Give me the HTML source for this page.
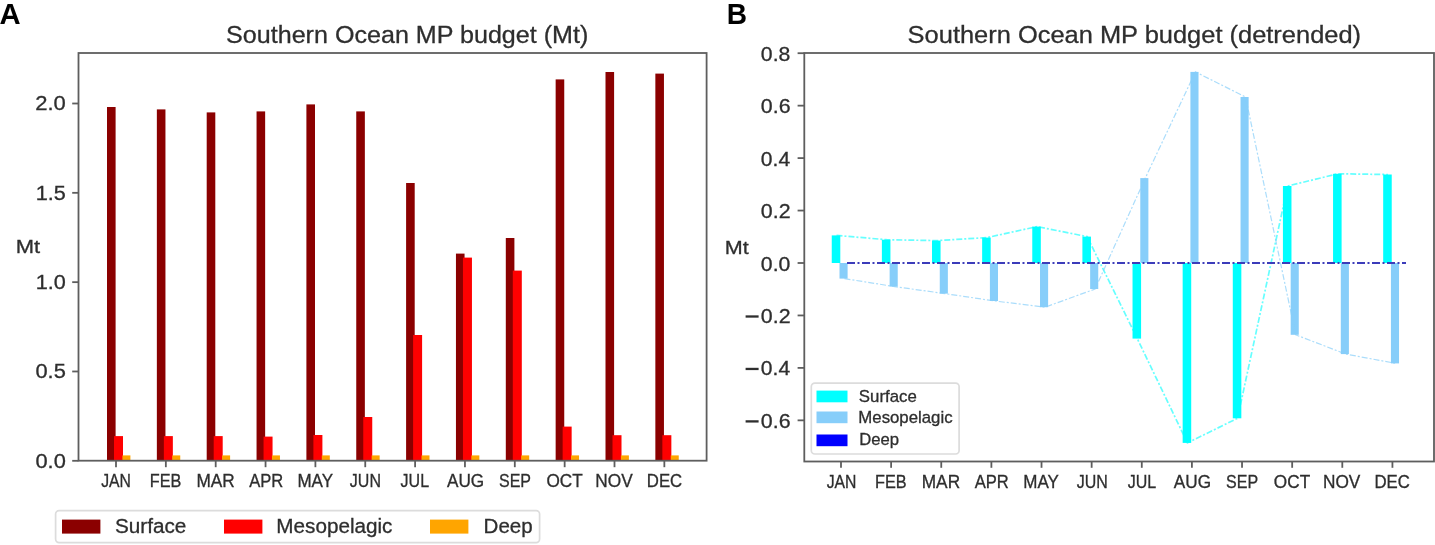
<!DOCTYPE html>
<html><head><meta charset="utf-8"><style>
html,body{margin:0;padding:0;background:#fff;}
body{width:1435px;height:545px;overflow:hidden;}
svg{display:block;font-family:"Liberation Sans",sans-serif;filter:blur(0.3px);}
</style></head><body>
<svg width="1435" height="545" viewBox="0 0 1435 545">
<rect width="1435" height="545" fill="#fff"/>
<text x="-0.39" y="23.80" font-size="29.60" font-weight="bold" fill="#000" stroke="#000" stroke-width="0" textLength="21.13" lengthAdjust="spacingAndGlyphs">A</text>
<text x="726.72" y="23.80" font-size="29.60" font-weight="bold" fill="#000" stroke="#000" stroke-width="0" textLength="20.27" lengthAdjust="spacingAndGlyphs">B</text>
<text x="226.04" y="42.50" font-size="24.60" font-weight="normal" fill="#2e2e2e" stroke="#2e2e2e" stroke-width="0.3" textLength="362.32" lengthAdjust="spacingAndGlyphs">Southern Ocean MP budget (Mt)</text>
<text x="907.63" y="42.50" font-size="24.60" font-weight="normal" fill="#2e2e2e" stroke="#2e2e2e" stroke-width="0.3" textLength="453.43" lengthAdjust="spacingAndGlyphs">Southern Ocean MP budget (detrended)</text>
<rect x="107.00" y="107.00" width="8.6" height="353.80" fill="#8b0000"/>
<rect x="114.00" y="436.10" width="9" height="24.70" fill="#ff0000"/>
<rect x="122.40" y="455.40" width="8" height="5.40" fill="#ffa500"/>
<rect x="156.85" y="109.40" width="8.6" height="351.40" fill="#8b0000"/>
<rect x="163.85" y="436.10" width="9" height="24.70" fill="#ff0000"/>
<rect x="172.25" y="455.40" width="8" height="5.40" fill="#ffa500"/>
<rect x="206.70" y="112.40" width="8.6" height="348.40" fill="#8b0000"/>
<rect x="213.70" y="436.10" width="9" height="24.70" fill="#ff0000"/>
<rect x="222.10" y="455.40" width="8" height="5.40" fill="#ffa500"/>
<rect x="256.55" y="111.40" width="8.6" height="349.40" fill="#8b0000"/>
<rect x="263.55" y="436.60" width="9" height="24.20" fill="#ff0000"/>
<rect x="271.95" y="455.40" width="8" height="5.40" fill="#ffa500"/>
<rect x="306.40" y="104.40" width="8.6" height="356.40" fill="#8b0000"/>
<rect x="313.40" y="435.00" width="9" height="25.80" fill="#ff0000"/>
<rect x="321.80" y="455.40" width="8" height="5.40" fill="#ffa500"/>
<rect x="356.25" y="111.40" width="8.6" height="349.40" fill="#8b0000"/>
<rect x="363.25" y="417.00" width="9" height="43.80" fill="#ff0000"/>
<rect x="371.65" y="455.40" width="8" height="5.40" fill="#ffa500"/>
<rect x="406.10" y="183.00" width="8.6" height="277.80" fill="#8b0000"/>
<rect x="413.10" y="335.00" width="9" height="125.80" fill="#ff0000"/>
<rect x="421.50" y="455.40" width="8" height="5.40" fill="#ffa500"/>
<rect x="455.95" y="253.60" width="8.6" height="207.20" fill="#8b0000"/>
<rect x="462.95" y="257.60" width="9" height="203.20" fill="#ff0000"/>
<rect x="471.35" y="455.40" width="8" height="5.40" fill="#ffa500"/>
<rect x="505.80" y="238.00" width="8.6" height="222.80" fill="#8b0000"/>
<rect x="512.80" y="270.60" width="9" height="190.20" fill="#ff0000"/>
<rect x="521.20" y="455.40" width="8" height="5.40" fill="#ffa500"/>
<rect x="555.65" y="79.40" width="8.6" height="381.40" fill="#8b0000"/>
<rect x="562.65" y="426.60" width="9" height="34.20" fill="#ff0000"/>
<rect x="571.05" y="455.40" width="8" height="5.40" fill="#ffa500"/>
<rect x="605.50" y="72.00" width="8.6" height="388.80" fill="#8b0000"/>
<rect x="612.50" y="435.20" width="9" height="25.60" fill="#ff0000"/>
<rect x="620.90" y="455.40" width="8" height="5.40" fill="#ffa500"/>
<rect x="655.35" y="73.60" width="8.6" height="387.20" fill="#8b0000"/>
<rect x="662.35" y="435.20" width="9" height="25.60" fill="#ff0000"/>
<rect x="670.75" y="455.40" width="8" height="5.40" fill="#ffa500"/>
<rect x="78.5" y="53" width="628.10" height="407.70" fill="none" stroke="#5e5e5e" stroke-width="1.8"/>
<line x1="72.2" y1="460.80" x2="78.5" y2="460.80" stroke="#5e5e5e" stroke-width="1.8"/>
<text x="35.43" y="467.70" font-size="19.90" font-weight="normal" fill="#2e2e2e" stroke="#2e2e2e" stroke-width="0.3" textLength="30.35" lengthAdjust="spacingAndGlyphs">0.0</text>
<line x1="72.2" y1="371.48" x2="78.5" y2="371.48" stroke="#5e5e5e" stroke-width="1.8"/>
<text x="35.43" y="378.38" font-size="19.90" font-weight="normal" fill="#2e2e2e" stroke="#2e2e2e" stroke-width="0.3" textLength="30.35" lengthAdjust="spacingAndGlyphs">0.5</text>
<line x1="72.2" y1="282.15" x2="78.5" y2="282.15" stroke="#5e5e5e" stroke-width="1.8"/>
<text x="35.69" y="289.05" font-size="19.90" font-weight="normal" fill="#2e2e2e" stroke="#2e2e2e" stroke-width="0.3" textLength="30.08" lengthAdjust="spacingAndGlyphs">1.0</text>
<line x1="72.2" y1="192.83" x2="78.5" y2="192.83" stroke="#5e5e5e" stroke-width="1.8"/>
<text x="35.69" y="199.73" font-size="19.90" font-weight="normal" fill="#2e2e2e" stroke="#2e2e2e" stroke-width="0.3" textLength="30.08" lengthAdjust="spacingAndGlyphs">1.5</text>
<line x1="72.2" y1="103.50" x2="78.5" y2="103.50" stroke="#5e5e5e" stroke-width="1.8"/>
<text x="35.20" y="110.40" font-size="19.90" font-weight="normal" fill="#2e2e2e" stroke="#2e2e2e" stroke-width="0.3" textLength="30.58" lengthAdjust="spacingAndGlyphs">2.0</text>
<text x="15.84" y="253.40" font-size="18.97" font-weight="normal" fill="#2e2e2e" stroke="#2e2e2e" stroke-width="0.3" textLength="24.39" lengthAdjust="spacingAndGlyphs">Mt</text>
<line x1="116.00" y1="460.7" x2="116.00" y2="467.2" stroke="#5e5e5e" stroke-width="1.8"/>
<text x="101.15" y="486.90" font-size="17.60" font-weight="normal" fill="#2e2e2e" stroke="#2e2e2e" stroke-width="0.3" textLength="29.79" lengthAdjust="spacingAndGlyphs">JAN</text>
<line x1="165.85" y1="460.7" x2="165.85" y2="467.2" stroke="#5e5e5e" stroke-width="1.8"/>
<text x="149.71" y="486.90" font-size="17.60" font-weight="normal" fill="#2e2e2e" stroke="#2e2e2e" stroke-width="0.3" textLength="31.61" lengthAdjust="spacingAndGlyphs">FEB</text>
<line x1="215.70" y1="460.7" x2="215.70" y2="467.2" stroke="#5e5e5e" stroke-width="1.8"/>
<text x="196.49" y="486.90" font-size="17.60" font-weight="normal" fill="#2e2e2e" stroke="#2e2e2e" stroke-width="0.3" textLength="38.36" lengthAdjust="spacingAndGlyphs">MAR</text>
<line x1="265.55" y1="460.7" x2="265.55" y2="467.2" stroke="#5e5e5e" stroke-width="1.8"/>
<text x="249.13" y="486.90" font-size="17.60" font-weight="normal" fill="#2e2e2e" stroke="#2e2e2e" stroke-width="0.3" textLength="34.11" lengthAdjust="spacingAndGlyphs">APR</text>
<line x1="315.40" y1="460.7" x2="315.40" y2="467.2" stroke="#5e5e5e" stroke-width="1.8"/>
<text x="297.46" y="486.90" font-size="17.60" font-weight="normal" fill="#2e2e2e" stroke="#2e2e2e" stroke-width="0.3" textLength="35.61" lengthAdjust="spacingAndGlyphs">MAY</text>
<line x1="365.25" y1="460.7" x2="365.25" y2="467.2" stroke="#5e5e5e" stroke-width="1.8"/>
<text x="349.85" y="486.90" font-size="17.60" font-weight="normal" fill="#2e2e2e" stroke="#2e2e2e" stroke-width="0.3" textLength="31.09" lengthAdjust="spacingAndGlyphs">JUN</text>
<line x1="415.10" y1="460.7" x2="415.10" y2="467.2" stroke="#5e5e5e" stroke-width="1.8"/>
<text x="400.60" y="486.90" font-size="17.60" font-weight="normal" fill="#2e2e2e" stroke="#2e2e2e" stroke-width="0.3" textLength="28.49" lengthAdjust="spacingAndGlyphs">JUL</text>
<line x1="464.95" y1="460.7" x2="464.95" y2="467.2" stroke="#5e5e5e" stroke-width="1.8"/>
<text x="446.96" y="486.90" font-size="17.60" font-weight="normal" fill="#2e2e2e" stroke="#2e2e2e" stroke-width="0.3" textLength="37.23" lengthAdjust="spacingAndGlyphs">AUG</text>
<line x1="514.80" y1="460.7" x2="514.80" y2="467.2" stroke="#5e5e5e" stroke-width="1.8"/>
<text x="498.98" y="486.90" font-size="17.60" font-weight="normal" fill="#2e2e2e" stroke="#2e2e2e" stroke-width="0.3" textLength="32.06" lengthAdjust="spacingAndGlyphs">SEP</text>
<line x1="564.65" y1="460.7" x2="564.65" y2="467.2" stroke="#5e5e5e" stroke-width="1.8"/>
<text x="546.40" y="486.90" font-size="17.60" font-weight="normal" fill="#2e2e2e" stroke="#2e2e2e" stroke-width="0.3" textLength="36.27" lengthAdjust="spacingAndGlyphs">OCT</text>
<line x1="614.50" y1="460.7" x2="614.50" y2="467.2" stroke="#5e5e5e" stroke-width="1.8"/>
<text x="595.36" y="486.90" font-size="17.60" font-weight="normal" fill="#2e2e2e" stroke="#2e2e2e" stroke-width="0.3" textLength="37.41" lengthAdjust="spacingAndGlyphs">NOV</text>
<line x1="664.35" y1="460.7" x2="664.35" y2="467.2" stroke="#5e5e5e" stroke-width="1.8"/>
<text x="646.79" y="486.90" font-size="17.60" font-weight="normal" fill="#2e2e2e" stroke="#2e2e2e" stroke-width="0.3" textLength="35.38" lengthAdjust="spacingAndGlyphs">DEC</text>
<rect x="55.6" y="510.6" width="484" height="32" rx="3.5" ry="3.5" fill="#fff" stroke="#dcdcdc" stroke-width="1.7"/>
<rect x="62" y="519.6" width="38.4" height="14" fill="#8b0000"/>
<rect x="224" y="519.6" width="38.4" height="14" fill="#ff0000"/>
<rect x="430" y="519.6" width="38.4" height="14" fill="#ffa500"/>
<text x="114.96" y="533.30" font-size="19.92" font-weight="normal" fill="#2e2e2e" stroke="#2e2e2e" stroke-width="0.3" textLength="71.36" lengthAdjust="spacingAndGlyphs">Surface</text>
<text x="276.35" y="533.30" font-size="19.92" font-weight="normal" fill="#2e2e2e" stroke="#2e2e2e" stroke-width="0.3" textLength="116.10" lengthAdjust="spacingAndGlyphs">Mesopelagic</text>
<text x="483.56" y="533.10" font-size="19.92" font-weight="normal" fill="#2e2e2e" stroke="#2e2e2e" stroke-width="0.3" textLength="49.10" lengthAdjust="spacingAndGlyphs">Deep</text>
<rect x="831.75" y="235.40" width="8.55" height="27.60" fill="#00ffff"/>
<rect x="839.50" y="263.00" width="8.1" height="15.60" fill="#87cefa"/>
<rect x="881.88" y="239.70" width="8.55" height="23.30" fill="#00ffff"/>
<rect x="889.63" y="263.00" width="8.1" height="23.60" fill="#87cefa"/>
<rect x="932.01" y="240.60" width="8.55" height="22.40" fill="#00ffff"/>
<rect x="939.76" y="263.00" width="8.1" height="30.60" fill="#87cefa"/>
<rect x="982.14" y="237.60" width="8.55" height="25.40" fill="#00ffff"/>
<rect x="989.89" y="263.00" width="8.1" height="38.00" fill="#87cefa"/>
<rect x="1032.27" y="226.60" width="8.55" height="36.40" fill="#00ffff"/>
<rect x="1040.02" y="263.00" width="8.1" height="44.20" fill="#87cefa"/>
<rect x="1082.40" y="236.60" width="8.55" height="26.40" fill="#00ffff"/>
<rect x="1090.15" y="263.00" width="8.1" height="26.00" fill="#87cefa"/>
<rect x="1132.53" y="263.00" width="8.55" height="75.60" fill="#00ffff"/>
<rect x="1140.28" y="178.10" width="8.1" height="84.90" fill="#87cefa"/>
<rect x="1182.66" y="263.00" width="8.55" height="179.90" fill="#00ffff"/>
<rect x="1190.41" y="71.90" width="8.1" height="191.10" fill="#87cefa"/>
<rect x="1232.79" y="263.00" width="8.55" height="155.30" fill="#00ffff"/>
<rect x="1240.54" y="97.00" width="8.1" height="166.00" fill="#87cefa"/>
<rect x="1282.92" y="186.00" width="8.55" height="77.00" fill="#00ffff"/>
<rect x="1290.67" y="263.00" width="8.1" height="71.80" fill="#87cefa"/>
<rect x="1333.05" y="173.80" width="8.55" height="89.20" fill="#00ffff"/>
<rect x="1340.80" y="263.00" width="8.1" height="91.10" fill="#87cefa"/>
<rect x="1383.18" y="174.50" width="8.55" height="88.50" fill="#00ffff"/>
<rect x="1390.93" y="263.00" width="8.1" height="100.40" fill="#87cefa"/>
<polyline points="836.50,235.40 886.63,239.70 936.76,240.60 986.89,237.60 1037.02,226.60 1087.15,236.60 1137.28,338.60 1187.41,442.90 1237.54,418.30 1287.67,186.00 1337.80,173.80 1387.93,174.50" fill="none" stroke="#00ffff" stroke-opacity="0.6" stroke-width="1.7" stroke-dasharray="6 2 2 2"/>
<polyline points="844.50,278.60 894.63,286.60 944.76,293.60 994.89,301.00 1045.02,307.20 1095.15,289.00 1145.28,178.10 1195.41,71.90 1245.54,97.00 1295.67,334.80 1345.80,354.10 1395.93,363.40" fill="none" stroke="#87cefa" stroke-opacity="0.7" stroke-width="1.2" stroke-dasharray="6 2 2 2"/>
<line x1="847" y1="263.0" x2="1406" y2="263.0" stroke="#3c3cba" stroke-width="1.9" stroke-dasharray="8 2.5 2 2.5"/>
<rect x="804.3" y="53" width="629.70" height="408.50" fill="none" stroke="#5e5e5e" stroke-width="1.8"/>
<line x1="797.6" y1="53.20" x2="804.3" y2="53.20" stroke="#5e5e5e" stroke-width="1.8"/>
<text x="760.85" y="60.70" font-size="19.90" font-weight="normal" fill="#2e2e2e" stroke="#2e2e2e" stroke-width="0.3" textLength="29.50" lengthAdjust="spacingAndGlyphs">0.8</text>
<line x1="797.6" y1="105.65" x2="804.3" y2="105.65" stroke="#5e5e5e" stroke-width="1.8"/>
<text x="760.84" y="113.15" font-size="19.90" font-weight="normal" fill="#2e2e2e" stroke="#2e2e2e" stroke-width="0.3" textLength="29.72" lengthAdjust="spacingAndGlyphs">0.6</text>
<line x1="797.6" y1="158.10" x2="804.3" y2="158.10" stroke="#5e5e5e" stroke-width="1.8"/>
<text x="760.86" y="165.60" font-size="19.90" font-weight="normal" fill="#2e2e2e" stroke="#2e2e2e" stroke-width="0.3" textLength="29.27" lengthAdjust="spacingAndGlyphs">0.4</text>
<line x1="797.6" y1="210.55" x2="804.3" y2="210.55" stroke="#5e5e5e" stroke-width="1.8"/>
<text x="760.84" y="218.05" font-size="19.90" font-weight="normal" fill="#2e2e2e" stroke="#2e2e2e" stroke-width="0.3" textLength="29.72" lengthAdjust="spacingAndGlyphs">0.2</text>
<line x1="797.6" y1="263.00" x2="804.3" y2="263.00" stroke="#5e5e5e" stroke-width="1.8"/>
<text x="760.85" y="270.50" font-size="19.90" font-weight="normal" fill="#2e2e2e" stroke="#2e2e2e" stroke-width="0.3" textLength="29.50" lengthAdjust="spacingAndGlyphs">0.0</text>
<line x1="797.6" y1="315.45" x2="804.3" y2="315.45" stroke="#5e5e5e" stroke-width="1.8"/>
<text x="760.84" y="322.95" font-size="19.90" font-weight="normal" fill="#2e2e2e" stroke="#2e2e2e" stroke-width="0.3" textLength="29.72" lengthAdjust="spacingAndGlyphs">0.2</text>
<rect x="745.6" y="315.35" width="13" height="2.3" fill="#2e2e2e"/>
<line x1="797.6" y1="367.90" x2="804.3" y2="367.90" stroke="#5e5e5e" stroke-width="1.8"/>
<text x="760.86" y="375.40" font-size="19.90" font-weight="normal" fill="#2e2e2e" stroke="#2e2e2e" stroke-width="0.3" textLength="29.27" lengthAdjust="spacingAndGlyphs">0.4</text>
<rect x="745.6" y="367.80" width="13" height="2.3" fill="#2e2e2e"/>
<line x1="797.6" y1="420.35" x2="804.3" y2="420.35" stroke="#5e5e5e" stroke-width="1.8"/>
<text x="760.84" y="427.85" font-size="19.90" font-weight="normal" fill="#2e2e2e" stroke="#2e2e2e" stroke-width="0.3" textLength="29.72" lengthAdjust="spacingAndGlyphs">0.6</text>
<rect x="745.6" y="420.25" width="13" height="2.3" fill="#2e2e2e"/>
<text x="724.87" y="253.60" font-size="18.97" font-weight="normal" fill="#2e2e2e" stroke="#2e2e2e" stroke-width="0.3" textLength="23.96" lengthAdjust="spacingAndGlyphs">Mt</text>
<line x1="841.00" y1="461.5" x2="841.00" y2="467.8" stroke="#5e5e5e" stroke-width="1.8"/>
<text x="826.65" y="488.20" font-size="17.60" font-weight="normal" fill="#2e2e2e" stroke="#2e2e2e" stroke-width="0.3" textLength="29.79" lengthAdjust="spacingAndGlyphs">JAN</text>
<line x1="891.13" y1="461.5" x2="891.13" y2="467.8" stroke="#5e5e5e" stroke-width="1.8"/>
<text x="875.04" y="488.20" font-size="17.60" font-weight="normal" fill="#2e2e2e" stroke="#2e2e2e" stroke-width="0.3" textLength="31.61" lengthAdjust="spacingAndGlyphs">FEB</text>
<line x1="941.26" y1="461.5" x2="941.26" y2="467.8" stroke="#5e5e5e" stroke-width="1.8"/>
<text x="921.75" y="488.20" font-size="17.60" font-weight="normal" fill="#2e2e2e" stroke="#2e2e2e" stroke-width="0.3" textLength="38.36" lengthAdjust="spacingAndGlyphs">MAR</text>
<line x1="991.39" y1="461.5" x2="991.39" y2="467.8" stroke="#5e5e5e" stroke-width="1.8"/>
<text x="974.72" y="488.20" font-size="17.60" font-weight="normal" fill="#2e2e2e" stroke="#2e2e2e" stroke-width="0.3" textLength="34.11" lengthAdjust="spacingAndGlyphs">APR</text>
<line x1="1041.52" y1="461.5" x2="1041.52" y2="467.8" stroke="#5e5e5e" stroke-width="1.8"/>
<text x="1023.23" y="488.20" font-size="17.60" font-weight="normal" fill="#2e2e2e" stroke="#2e2e2e" stroke-width="0.3" textLength="35.61" lengthAdjust="spacingAndGlyphs">MAY</text>
<line x1="1091.65" y1="461.5" x2="1091.65" y2="467.8" stroke="#5e5e5e" stroke-width="1.8"/>
<text x="1076.70" y="488.20" font-size="17.60" font-weight="normal" fill="#2e2e2e" stroke="#2e2e2e" stroke-width="0.3" textLength="31.09" lengthAdjust="spacingAndGlyphs">JUN</text>
<line x1="1141.78" y1="461.5" x2="1141.78" y2="467.8" stroke="#5e5e5e" stroke-width="1.8"/>
<text x="1127.68" y="488.20" font-size="17.60" font-weight="normal" fill="#2e2e2e" stroke="#2e2e2e" stroke-width="0.3" textLength="28.49" lengthAdjust="spacingAndGlyphs">JUL</text>
<line x1="1191.91" y1="461.5" x2="1191.91" y2="467.8" stroke="#5e5e5e" stroke-width="1.8"/>
<text x="1173.87" y="488.20" font-size="17.60" font-weight="normal" fill="#2e2e2e" stroke="#2e2e2e" stroke-width="0.3" textLength="37.23" lengthAdjust="spacingAndGlyphs">AUG</text>
<line x1="1242.04" y1="461.5" x2="1242.04" y2="467.8" stroke="#5e5e5e" stroke-width="1.8"/>
<text x="1226.02" y="488.20" font-size="17.60" font-weight="normal" fill="#2e2e2e" stroke="#2e2e2e" stroke-width="0.3" textLength="32.06" lengthAdjust="spacingAndGlyphs">SEP</text>
<line x1="1292.17" y1="461.5" x2="1292.17" y2="467.8" stroke="#5e5e5e" stroke-width="1.8"/>
<text x="1273.87" y="488.20" font-size="17.60" font-weight="normal" fill="#2e2e2e" stroke="#2e2e2e" stroke-width="0.3" textLength="36.27" lengthAdjust="spacingAndGlyphs">OCT</text>
<line x1="1342.30" y1="461.5" x2="1342.30" y2="467.8" stroke="#5e5e5e" stroke-width="1.8"/>
<text x="1322.96" y="488.20" font-size="17.60" font-weight="normal" fill="#2e2e2e" stroke="#2e2e2e" stroke-width="0.3" textLength="37.41" lengthAdjust="spacingAndGlyphs">NOV</text>
<line x1="1392.43" y1="461.5" x2="1392.43" y2="467.8" stroke="#5e5e5e" stroke-width="1.8"/>
<text x="1374.42" y="488.20" font-size="17.60" font-weight="normal" fill="#2e2e2e" stroke="#2e2e2e" stroke-width="0.3" textLength="35.38" lengthAdjust="spacingAndGlyphs">DEC</text>
<rect x="811.3" y="383.1" width="147.8" height="70.9" rx="3.5" ry="3.5" fill="#fff" stroke="#dcdcdc" stroke-width="1.7"/>
<rect x="816.5" y="390.6" width="31" height="11.7" fill="#00ffff"/>
<rect x="816.5" y="411.5" width="31" height="11.7" fill="#87cefa"/>
<rect x="816.5" y="434.5" width="31" height="11.7" fill="#0000ff"/>
<text x="858.86" y="402.10" font-size="16.16" font-weight="normal" fill="#2e2e2e" stroke="#2e2e2e" stroke-width="0.3" textLength="57.89" lengthAdjust="spacingAndGlyphs">Surface</text>
<text x="858.36" y="423.20" font-size="16.16" font-weight="normal" fill="#2e2e2e" stroke="#2e2e2e" stroke-width="0.3" textLength="94.17" lengthAdjust="spacingAndGlyphs">Mesopelagic</text>
<text x="859.27" y="445.20" font-size="16.16" font-weight="normal" fill="#2e2e2e" stroke="#2e2e2e" stroke-width="0.3" textLength="39.83" lengthAdjust="spacingAndGlyphs">Deep</text>
</svg></body></html>
